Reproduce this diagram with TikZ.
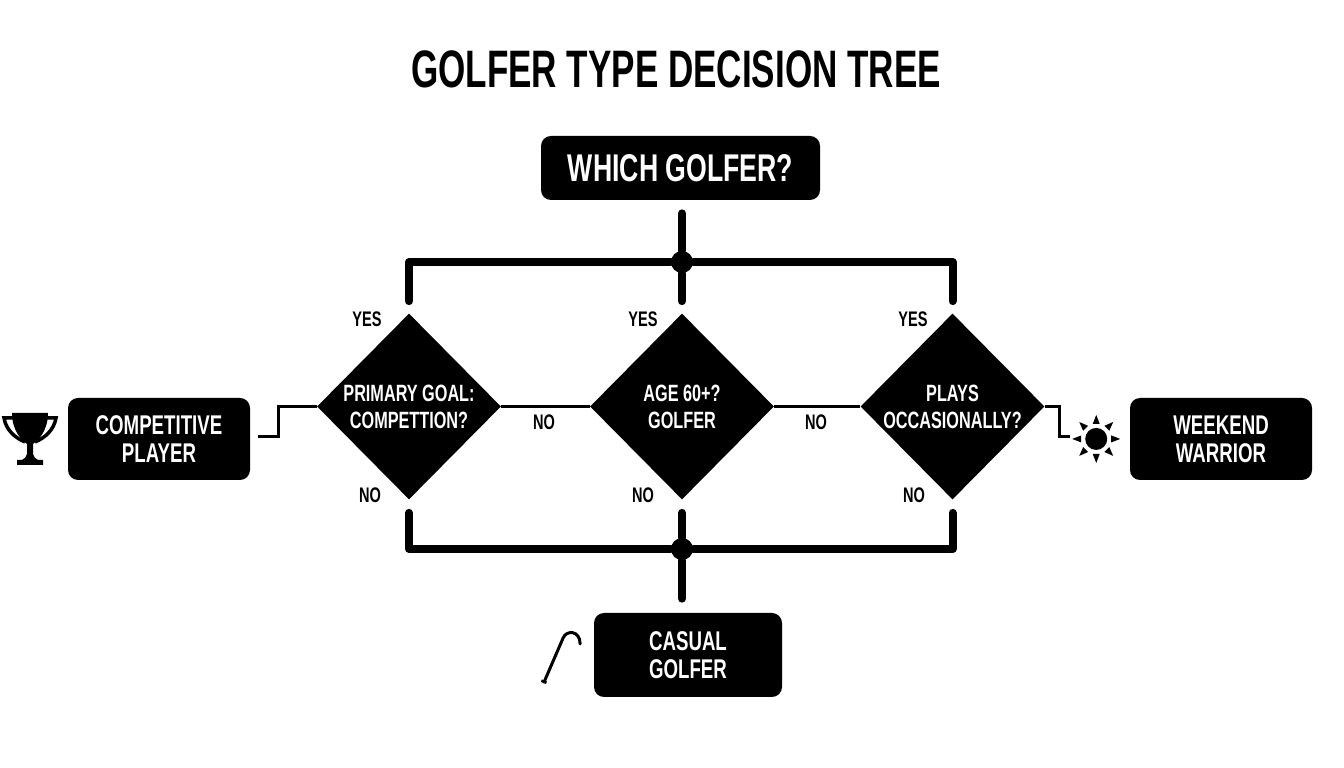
\documentclass[tikz,border=0pt]{standalone}
\usepackage{fontspec}
\setmainfont{Liberation Sans}[FakeStretch=0.69]
\newfontfamily\titlefont{Liberation Sans}[FakeStretch=0.665]
\usetikzlibrary{shapes.geometric}
\tikzset{
    headbox/.style={fill=black, text=white, rounded corners=0.2cm, align=center, font=\fontsize{22}{26}\selectfont\bfseries, minimum width=5.58cm, minimum height=1.28cm},
    resultbox/.style={fill=black, text=white, rounded corners=0.2cm, align=center, font=\fontsize{15.4}{16}\selectfont\bfseries, minimum width=3.64cm, minimum height=1.64cm},
    decision/.style={diamond, fill=black, text=white, align=center, inner sep=-0.2cm, font=\fontsize{13.4}{15.4}\selectfont\bfseries, minimum width=3.68cm, minimum height=3.72cm},
    answer/.style={font=\fontsize{12}{13}\selectfont\bfseries},
    hub/.style={circle, fill=black, inner sep=0, minimum size=0.44cm},
    trunk/.style={line width=0.16cm, line cap=round, line join=round},
    link/.style={line width=0.06cm},
}
\begin{document}
\begin{tikzpicture}
    \useasboundingbox (0,0) rectangle (26.88,15.36);
    \node[font=\titlefont\fontsize{30}{34}\selectfont\bfseries] (title) at (13.52,13.98) {GOLFER TYPE DECISION TREE};
    \node[headbox] (root) at (13.61,12) {WHICH GOLFER?};
    \node[decision] (goal) at (8.18,7.23) {PRIMARY GOAL:\\COMPETTION?};
    \node[decision] (age) at (13.64,7.23) {AGE 60+?\\GOLFER};
    \node[decision] (occasional) at (19.05,7.23) {PLAYS\\OCCASIONALLY?};
    \node[resultbox] (competitive) at (3.18,6.58) {COMPETITIVE\\PLAYER};
    \node[resultbox] (weekend) at (24.42,6.58) {WEEKEND\\WARRIOR};
    \node[resultbox, minimum width=3.76cm, minimum height=1.68cm] (casual) at (13.76,2.26) {CASUAL\\GOLFER};
    \node[hub] (hubtop) at (13.64,10.12) {};
    \node[hub] (hubbottom) at (13.64,4.38) {};
    \coordinate (sunend) at (21.4,6.62);

    \draw[trunk, shorten <=0.26cm] (root.south -| hubtop) -- (hubtop);
    \draw[trunk, shorten >=0.24cm] (hubtop) -- (age.north);
    \draw[trunk, shorten >=0.24cm] (hubtop) -| (goal.north);
    \draw[trunk, shorten >=0.24cm] (hubtop) -| (occasional.north);
    \draw[trunk, shorten >=0.26cm] (hubbottom) -- (age.south);
    \draw[trunk, shorten >=0.26cm] (hubbottom) -| (goal.south);
    \draw[trunk, shorten >=0.26cm] (hubbottom) -| (occasional.south);
    \draw[trunk, shorten >=0.28cm] (hubbottom) -- (hubbottom |- casual.north);
    \draw[link] (goal.east) -- (age.west);
    \draw[link] (age.east) -- (occasional.west);
    \draw[link, shorten >=0.16cm] (goal.west) -- ++(-0.76,0) |- ([yshift=0.04cm]competitive.east);
    \draw[link] (occasional.east) -- ++(0.3,0) |- (sunend);

    \node[answer] (yesgoal) at (7.34,8.98) {YES};
    \node[answer] (yesage) at (12.86,8.98) {YES};
    \node[answer] (yesoccasional) at (18.26,8.98) {YES};
    \node[answer] (nogoal) at (7.4,5.46) {NO};
    \node[answer] (noage) at (12.86,5.46) {NO};
    \node[answer] (nooccasional) at (18.28,5.46) {NO};
    \node[answer] (nogoalage) at (10.88,6.92) {NO};
    \node[answer] (noageoccasional) at (16.32,6.92) {NO};

    % icons, in pixels of the page
    \begin{scope}[x=0.02cm, y=-0.02cm, shift={(0,-768)}]
        % trophy
        \fill (12,413) -- (48,413) .. controls (48,430) and (39,440) .. (33,444) -- (33,454) .. controls (33,457) and (36,459) .. (38,460) -- (43,460) -- (43,465) -- (17,465) -- (17,460) -- (22,460) .. controls (24,459) and (27,457) .. (27,454) -- (27,444) .. controls (21,440) and (12,430) .. (12,413) -- cycle;
        \draw[line width=0.07cm] (13,418) -- (4,418) .. controls (6,430) and (15,438) .. (25,442);
        \draw[line width=0.07cm] (47,418) -- (56,418) .. controls (54,430) and (45,438) .. (35,442);
        % sun
        \fill (1096,439) circle (11);
        \foreach \a in {0,45,...,315} {
            \fill[rotate around={\a:(1096,439)}] (1092.5,424) -- (1099.5,424) -- (1096,415) -- cycle;
        }
        % cane
        \draw[line width=0.06cm, line cap=round] (544,682) -- (563,638) .. controls (566,630) and (580,630) .. (580,644);
        \draw[line width=0.11cm] (544.3,680.5) -- (543.3,683);
    \end{scope}
\end{tikzpicture}
\end{document}
